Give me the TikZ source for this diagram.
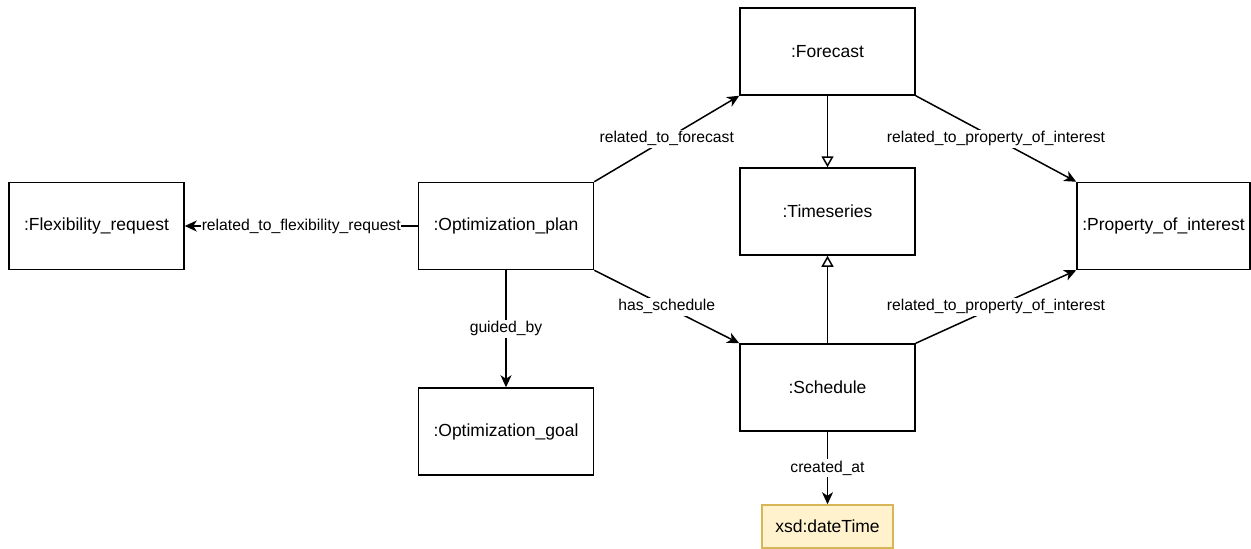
\documentclass[tikz,border=0pt]{standalone}
\usepackage{fontspec}
\setmainfont{Liberation Sans}
\usetikzlibrary{arrows.meta}
\definecolor{litfill}{HTML}{FFF2CC}
\definecolor{litdraw}{HTML}{D6B656}
\begin{document}
\begin{tikzpicture}[x=1pt,y=-1pt,
  obj/.style={draw, line width=1.5pt, minimum width=175pt, minimum height=87pt,
    inner sep=0pt, font=\fontsize{17.5}{20}\selectfont},
  lit/.style={draw=litdraw, fill=litfill, line width=1.5pt, minimum width=131pt,
    minimum height=43pt, inner sep=0pt, font=\fontsize{17.5}{20}\selectfont},
  rel/.style={line width=1.5pt, -{Stealth[length=12pt,width=11pt,inset=3.5pt]}},
  sub/.style={line width=1.5pt, -{Triangle[open,length=11pt,width=12pt,fill=white]}},
  lbl/.style={fill=white, inner sep=1.5pt, font=\fontsize{15.7}{18}\selectfont}]
\useasboundingbox (0,0) rectangle (1251,549);

% instances
\node[obj] (fc) at (827.5,51.5)  {:Forecast};
\node[obj] (ts) at (827.5,211.5) {:Timeseries};
\node[obj] (sc) at (827.5,387.5) {:Schedule};
\node[obj] (op) at (506,226)     {:Optimization\_plan};
\node[obj] (og) at (506,431.5)   {:Optimization\_goal};
\node[obj] (fr) at (96.5,226)    {:Flexibility\_request};
\node[obj, minimum width=173pt] (pi) at (1163.5,226) {:Property\_of\_interest};
\node[lit] (dt) at (827.5,526.5) {xsd:dateTime};

% relations
\draw[rel] (op.north east) -- node[lbl] {related\_to\_forecast} (fc.south west);
\draw[rel] (op.south east) -- node[lbl] {has\_schedule} (sc.north west);
\draw[rel] (fc.south east) -- node[lbl] {related\_to\_property\_of\_interest} (pi.north west);
\draw[rel] (sc.north east) -- node[lbl] {related\_to\_property\_of\_interest} (pi.south west);
\draw[rel] (op.west) -- node[lbl, inner xsep=0.5pt] {related\_to\_flexibility\_request} (fr.east);
\draw[rel] (op.south) -- node[lbl] {guided\_by} (og.north);
\draw[rel] (sc.south) -- node[lbl] {created\_at} (dt.north);

% specialisation links
\draw[sub] (fc.south) -- (ts.north);
\draw[sub] (sc.north) -- (ts.south);
\end{tikzpicture}
\end{document}
